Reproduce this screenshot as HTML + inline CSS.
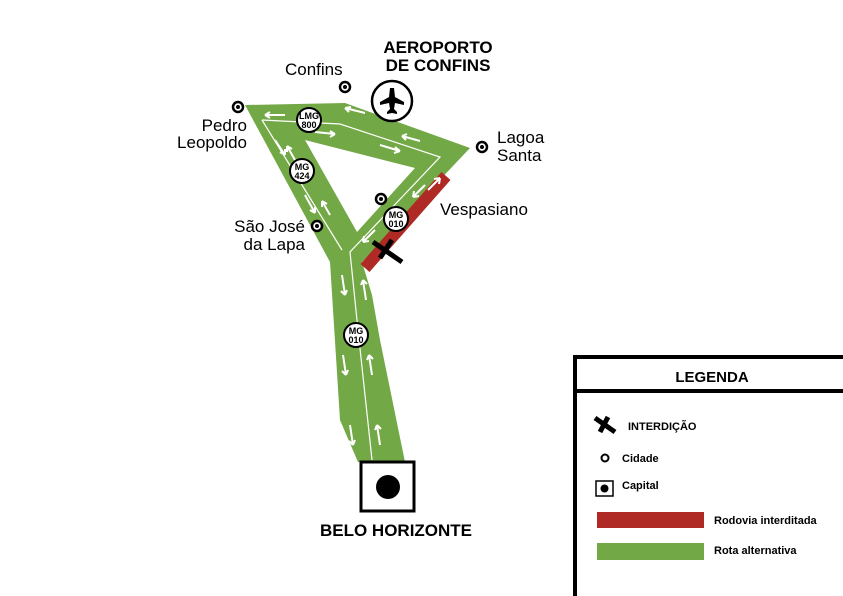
<!DOCTYPE html>
<html><head><meta charset="utf-8"><style>
body{margin:0;background:#fff}
svg{display:block;font-family:"Liberation Sans",sans-serif}
</style></head><body>
<svg width="843" height="596" viewBox="0 0 843 596">
<rect width="843" height="596" fill="#fff"/>
<polygon points="245,105 345,103 470,148 362,262 372,295 380,340 405,462 358,462 340,420 330,262" fill="#72a845"/>
<polygon points="305,140 415,168 357,232" fill="#fff"/>
<line x1="446" y1="176" x2="365" y2="268" stroke="#b02a25" stroke-width="12"/>
<g fill="none" stroke="#fff" stroke-width="1.2">
<polyline points="262,120 340,124 440,157 350,252 358,330 372,460"/>
<polyline points="262,120 342,250"/>
</g>
<g stroke="#fff" stroke-width="2" fill="none">
<path d="M285,115 l-20,0 m0,0 l5,-3 m-5,3 l5,3"/>
<path d="M365,113 l-20,-5 m0,0 l6,-1 m-6,1 l4,4"/>
<path d="M420,141 l-18,-5 m0,0 l5,-2 m-5,2 l4,4"/>
<path d="M315,132 l20,2 m0,0 l-5,-3 m5,3 l-5,3"/>
<path d="M380,145 l20,6 m0,0 l-5,-4 m5,4 l-6,2"/>
<path d="M275,140 l10,15 m0,0 l0,-6 m0,6 l-5,-3"/>
<path d="M305,195 l10,18 m0,0 l0,-6 m0,6 l-5,-3"/>
<path d="M295,160 l-8,-14 m0,0 l0,6 m0,-6 l5,3"/>
<path d="M330,215 l-8,-14 m0,0 l0,6 m0,-6 l5,3"/>
<path d="M425,185 l-12,12 m0,0 l6,-1 m-6,1 l1,-6"/>
<path d="M375,230 l-12,12 m0,0 l6,-1 m-6,1 l1,-6"/>
<path d="M428,190 l12,-12 m0,0 l-6,1 m6,-1 l-1,6"/>
<path d="M342,275 l3,20 m0,0 l2,-5 m-2,5 l-4,-4"/>
<path d="M343,355 l3,20 m0,0 l2,-5 m-2,5 l-4,-4"/>
<path d="M350,425 l3,20 m0,0 l2,-5 m-2,5 l-4,-4"/>
<path d="M366,300 l-3,-20 m0,0 l-2,5 m2,-5 l4,4"/>
<path d="M372,375 l-3,-20 m0,0 l-2,5 m2,-5 l4,4"/>
<path d="M380,445 l-3,-20 m0,0 l-2,5 m2,-5 l4,4"/>
</g>
<g stroke="#000" stroke-width="5"><line x1="373" y1="242" x2="402" y2="262"/><line x1="392" y1="240" x2="380" y2="258"/></g>
<g font-size="9" font-weight="bold" text-anchor="middle">
<circle cx="309" cy="120" r="12" fill="#fff" stroke="#000" stroke-width="2"/><text x="309" y="119">LMG</text><text x="309" y="128">800</text>
<circle cx="302" cy="171" r="12" fill="#fff" stroke="#000" stroke-width="2"/><text x="302" y="170">MG</text><text x="302" y="179">424</text>
<circle cx="396" cy="219" r="12" fill="#fff" stroke="#000" stroke-width="2"/><text x="396" y="218">MG</text><text x="396" y="227">010</text>
<circle cx="356" cy="335" r="12" fill="#fff" stroke="#000" stroke-width="2"/><text x="356" y="334">MG</text><text x="356" y="343">010</text>
</g>
<g fill="#fff" stroke="#000" stroke-width="2.5">
<circle cx="238" cy="107" r="5"/><circle cx="345" cy="87" r="5"/><circle cx="482" cy="147" r="5"/><circle cx="317" cy="226" r="5"/><circle cx="381" cy="199" r="5"/>
</g>
<g fill="#000"><circle cx="238" cy="107" r="2"/><circle cx="345" cy="87" r="2"/><circle cx="482" cy="147" r="2"/><circle cx="317" cy="226" r="2"/><circle cx="381" cy="199" r="2"/></g>
<circle cx="392" cy="101" r="20" fill="#fff" stroke="#000" stroke-width="2.5"/>
<path d="M392,88 l2,0 l1,9 l9,5 l0,3 l-9,-2 l-1,6 l3,3 l0,2 l-5,-1 l-5,1 l0,-2 l3,-3 l-1,-6 l-9,2 l0,-3 l9,-5 l1,-9z" fill="#000"/>
<g font-size="17" fill="#000">
<text x="285" y="75">Confins</text>
<text x="247" y="131" text-anchor="end">Pedro</text><text x="247" y="148" text-anchor="end">Leopoldo</text>
<text x="497" y="143">Lagoa</text><text x="497" y="161">Santa</text>
<text x="440" y="215">Vespasiano</text>
<text x="305" y="232" text-anchor="end">São José</text><text x="305" y="250" text-anchor="end">da Lapa</text>
</g>
<g font-size="17" font-weight="bold" text-anchor="middle">
<text x="438" y="53">AEROPORTO</text><text x="438" y="71">DE CONFINS</text>
<text x="396" y="536">BELO HORIZONTE</text>
</g>
<rect x="361" y="462" width="53" height="49" fill="#fff" stroke="#000" stroke-width="3"/>
<circle cx="388" cy="487" r="12" fill="#000"/>
<rect x="575" y="357" width="280" height="260" fill="#fff" stroke="#000" stroke-width="4"/>
<line x1="575" y1="391" x2="843" y2="391" stroke="#000" stroke-width="4"/>
<text x="712" y="382" font-size="15" font-weight="bold" text-anchor="middle">LEGENDA</text>
<g stroke="#000" stroke-width="5"><line x1="595" y1="418" x2="615" y2="432"/><line x1="608" y1="417" x2="600" y2="432"/></g>
<g font-size="11" font-weight="bold">
<text x="628" y="430">INTERDIÇÃO</text>
<text x="622" y="462">Cidade</text>
<text x="622" y="489">Capital</text>
<text x="714" y="524">Rodovia interditada</text>
<text x="714" y="554">Rota alternativa</text>
</g>
<circle cx="605" cy="458" r="3.5" fill="#fff" stroke="#000" stroke-width="2"/>
<rect x="596" y="481" width="17" height="15" fill="#fff" stroke="#000" stroke-width="1.5"/>
<circle cx="604.5" cy="488.5" r="4" fill="#000"/>
<rect x="597" y="512" width="107" height="16" fill="#b02a25"/>
<rect x="597" y="543" width="107" height="17" fill="#72a845"/>
</svg>
</body></html>
